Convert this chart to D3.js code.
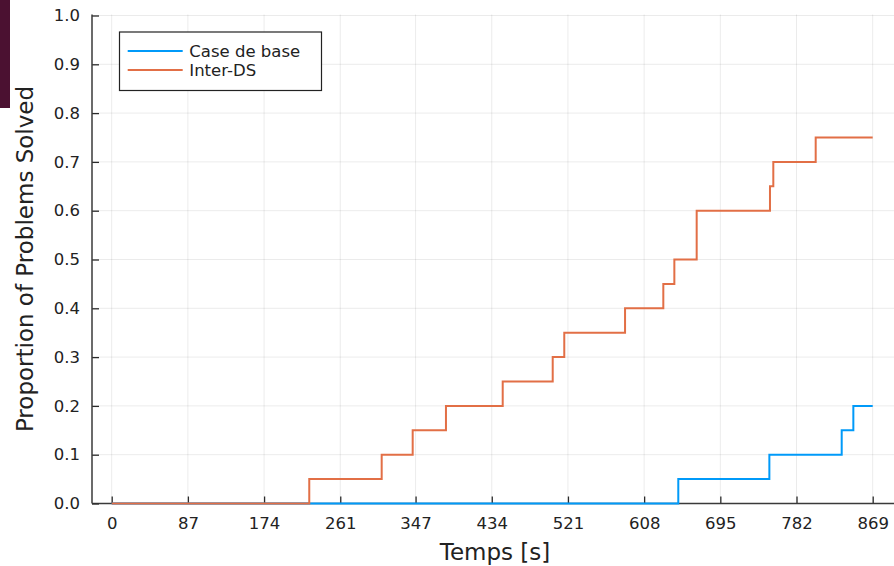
<!DOCTYPE html>
<html>
<head>
<meta charset="utf-8">
<script src="https://cdn.jsdelivr.net/npm/d3@7"></script>
<style>
  body { margin: 0; background: #fff; }
  svg { display: block; }
</style>
</head>
<body>
<div class="main"></div>
<script>
// step data
const baseTimes = [0, 647, 751, 833.6, 846.9, 869];
const baseVals = [0, 0.05, 0.10, 0.15, 0.20, 0.20];

const interTimes = [0, 225.6, 308.3, 343.7, 381.7, 446.5, 503.6, 516.8, 586.2, 629.9, 642.5, 668.0, 751.7, 755.5, 803.9, 869];
const interVals = [0, 0.05, 0.10, 0.15, 0.20, 0.25, 0.30, 0.35, 0.40, 0.45, 0.50, 0.60, 0.65, 0.70, 0.75, 0.75];

const seriesNames = ["Case de base", "Inter-DS"];
const xTicks = [0, 87, 174, 261, 347, 434, 521, 608, 695, 782, 869];
const yTicks = [0, 0.1, 0.2, 0.3, 0.4, 0.5, 0.6, 0.7, 0.8, 0.9, 1.0];

const W = 894, H = 566;
const plotLeft = 92, plotBottom = 503.5, plotTop = 15.5;
const font = "DejaVu Sans, sans-serif";

const svg = d3.select(".main").append("svg")
    .attr("width", W)
    .attr("height", H);

const x = d3.scaleLinear().domain([0, 869]).range([111.7, 872.7]);
const y = d3.scaleLinear().domain([0, 1]).range([plotBottom, plotTop]);

const color = d3.scaleOrdinal()
    .domain(seriesNames)
    .range(["#009af9", "#e26f46"]);

// grid
const grid = svg.append("g");
grid.selectAll("line.v")
    .data(xTicks)
    .enter().append("line")
    .attr("x1", d => x(d)).attr("x2", d => x(d))
    .attr("y1", plotTop - 1).attr("y2", plotBottom)
    .attr("stroke", "#000").attr("stroke-opacity", 0.08);
grid.selectAll("line.h")
    .data(yTicks)
    .enter().append("line")
    .attr("x1", plotLeft).attr("x2", W)
    .attr("y1", d => y(d)).attr("y2", d => y(d))
    .attr("stroke", "#000").attr("stroke-opacity", 0.08);

// axes
const xAxis = svg.append("g")
    .attr("transform", "translate(0," + plotBottom + ")")
    .call(d3.axisBottom(x).tickValues(xTicks).tickFormat(d3.format("d")).tickSize(-7).tickPadding(14));
xAxis.select(".domain").remove();
xAxis.append("line")
    .attr("x1", plotLeft).attr("x2", W)
    .attr("stroke", "#3a3a3a").attr("stroke-width", 1.5);

const yAxis = svg.append("g")
    .attr("transform", "translate(" + plotLeft + ",0)")
    .call(d3.axisLeft(y).tickValues(yTicks).tickFormat(d3.format(".1f")).tickSize(-7).tickPadding(12));
yAxis.select(".domain").remove();
yAxis.append("line")
    .attr("y1", plotTop - 1).attr("y2", plotBottom)
    .attr("stroke", "#3a3a3a").attr("stroke-width", 1.5);

svg.selectAll(".tick line").attr("stroke", "#2a2a2a").attr("stroke-width", 1.3);
svg.selectAll(".tick text")
    .attr("fill", "#222")
    .attr("font-family", font)
    .attr("font-size", "16.5px");

// series
const line = d3.line()
    .x(d => x(d[0]))
    .y(d => y(d[1]))
    .curve(d3.curveStepAfter);

const series = [
    { name: seriesNames[0], pts: d3.zip(baseTimes, baseVals) },
    { name: seriesNames[1], pts: d3.zip(interTimes, interVals) }
];

svg.selectAll("path.series")
    .data(series)
    .enter().append("path")
    .attr("class", "series")
    .attr("d", d => line(d.pts))
    .attr("fill", "none")
    .attr("stroke", d => color(d.name))
    .attr("stroke-width", 2);

// labels
svg.append("text")
    .text("Temps [s]")
    .attr("x", 495).attr("y", 560)
    .attr("text-anchor", "middle")
    .attr("font-family", font).attr("font-size", "23px")
    .attr("fill", "#222");

svg.append("text")
    .text("Proportion of Problems Solved")
    .attr("transform", "translate(33,259) rotate(-90)")
    .attr("text-anchor", "middle")
    .attr("font-family", font).attr("font-size", "23px")
    .attr("fill", "#222");

// legend
const legend = svg.append("g");
legend.append("rect")
    .attr("x", 119.5).attr("y", 32)
    .attr("width", 202).attr("height", 58.5)
    .attr("fill", "#fff")
    .attr("stroke", "#222").attr("stroke-width", 1.2);

const item = legend.selectAll("g.item")
    .data(seriesNames)
    .enter().append("g")
    .attr("transform", (d, i) => "translate(0," + (51 + i * 19) + ")");
item.append("line")
    .attr("x1", 127.7).attr("x2", 182.7)
    .attr("stroke", d => color(d)).attr("stroke-width", 2);
item.append("text")
    .text(d => d)
    .attr("x", 189.3).attr("y", 6)
    .attr("font-family", font).attr("font-size", "16.5px")
    .attr("fill", "#222");

// dark strip at the left edge of the screenshot
svg.append("rect")
    .attr("x", 0).attr("y", 0)
    .attr("width", 10).attr("height", 108)
    .attr("fill", "#4b1131");
</script>
</body>
</html>
